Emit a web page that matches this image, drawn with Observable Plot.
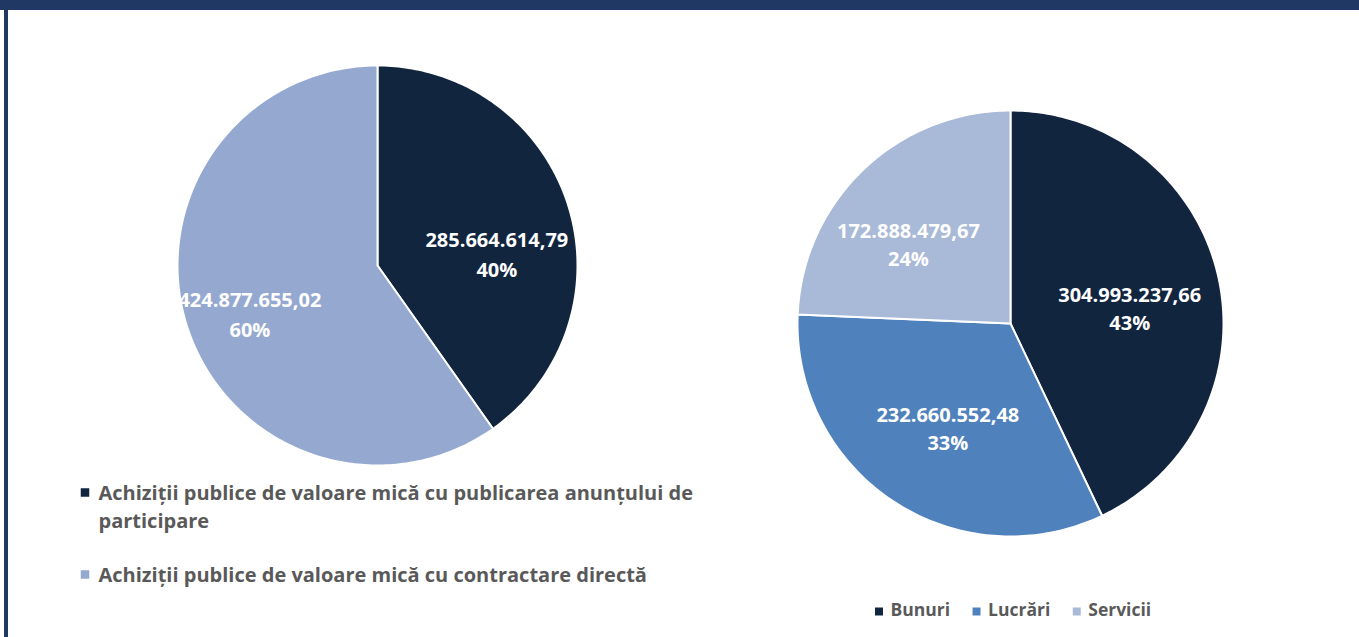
<!DOCTYPE html>
<html><head><meta charset="utf-8">
<script src="https://cdn.jsdelivr.net/npm/d3@7"></script>
<script src="https://cdn.jsdelivr.net/npm/@observablehq/plot@0.6"></script>
<style>
html,body{margin:0;padding:0;background:#fff;}
#wrap{position:relative;width:1359px;height:637px;overflow:hidden;background:#fff;}
#chart{position:absolute;left:0;top:0;}
#topband{position:absolute;left:0;top:0;width:1359px;height:10px;background:#1f3864;}
#leftbar{position:absolute;left:4px;top:0;width:4px;height:637px;background:#1f3864;}
</style></head><body>
<div id="wrap"><div id="chart"></div><div id="topband"></div><div id="leftbar"></div></div>
<script>
// ---- data ----
const leftCategories = [
  "Achiziții publice de valoare mică cu publicarea anunțului de participare",
  "Achiziții publice de valoare mică cu contractare directă"
];
const leftValues = [285664614.79, 424877655.02];
const leftColors = ["#12253f", "#95a9d0"];

const rightCategories = ["Bunuri", "Lucrări", "Servicii"];
const rightValues = [304993237.66, 232660552.48, 172888479.67];
const rightColors = ["#12253f", "#4f81bd", "#a9b9d8"];

// ---- layout ----
const W = 1359, H = 637;
const FONT = "'Open Sans', sans-serif";
const pies = {
  left:  {cx: 377,  cy: 265, r: 200, labelR: [0.60, 0.68], labelNudge: [11.6, -2.6], fontSize: 20, lineHeight: 1.5},
  right: {cx: 1010, cy: 323, r: 213, labelR: [0.565, 0.57, 0.61], labelNudge: [4.8, -2.4, -8], fontSize: 20, lineHeight: 1.4}
};

const ro = d3.formatLocale({decimal: ",", thousands: ".", grouping: [3], currency: ["", " lei"]});
const fmt = ro.format(",.2f");

function slices(cats, vals, cols, cfg, key) {
  const total = d3.sum(vals);
  let acc = 0;
  const poly = [], labels = [];
  cats.forEach((c, i) => {
    const a0 = acc / total * 2 * Math.PI;
    acc += vals[i];
    const a1 = acc / total * 2 * Math.PI;
    const n = Math.max(2, Math.ceil((a1 - a0) / (Math.PI / 180)));
    poly.push({key, cat: c, color: cols[i], x: cfg.cx, y: cfg.cy});
    for (let k = 0; k <= n; k++) {
      const a = a0 + (a1 - a0) * k / n;
      poly.push({key, cat: c, color: cols[i], x: cfg.cx + cfg.r * Math.sin(a), y: cfg.cy - cfg.r * Math.cos(a)});
    }
    poly.push({key, cat: c, color: cols[i], x: cfg.cx, y: cfg.cy});
    const am = (a0 + a1) / 2 + cfg.labelNudge[i] * Math.PI / 180;
    const lr = cfg.r * cfg.labelR[i];
    labels.push({
      x: cfg.cx + lr * Math.sin(am), y: cfg.cy - lr * Math.cos(am),
      text: fmt(vals[i]) + "\n" + Math.round(vals[i] / total * 100) + "%"
    });
  });
  return {poly, labels};
}

const L = slices(leftCategories, leftValues, leftColors, pies.left, "L");
const R = slices(rightCategories, rightValues, rightColors, pies.right, "R");

// legends
const legendColor = "#595959";
const leftLegend = leftCategories.map((c, i) => ({
  cat: c, color: leftColors[i],
  sx: 84.5, sy: i === 0 ? 492 : 574,
  tx: 98, ty: i === 0 ? 492 : 574,
  text: c.replace(" participare", "\nparticipare")
}));

const RLFS = 17.5;
const ctx = document.createElement("canvas").getContext("2d");
ctx.font = `bold ${RLFS}px ${FONT}`;
let lx = 874;
const rightLegend = rightCategories.map((c, i) => {
  const item = {cat: c, color: rightColors[i], sx: lx + 4.5, sy: 611, tx: lx + 16, ty: 610, text: c};
  lx += 16 + ctx.measureText(c).width + 22;
  return item;
});

const chart = Plot.plot({
  width: W, height: H,
  marginLeft: 177, marginRight: 0, marginTop: 0, marginBottom: 0,
  x: {domain: [0, W], range: [0, W], axis: null},
  y: {domain: [0, H], range: [0, H], axis: null},
  style: {fontFamily: FONT, background: "transparent"},
  marks: [
    Plot.line(L.poly, {x: "x", y: "y", z: "cat", fill: "color", stroke: "white", strokeWidth: 2, strokeLinejoin: "round", curve: "linear"}),
    Plot.line(R.poly, {x: "x", y: "y", z: "cat", fill: "color", stroke: "white", strokeWidth: 2, strokeLinejoin: "round", curve: "linear"}),
    Plot.text(L.labels, {x: "x", y: "y", text: "text", fill: "white", fontSize: pies.left.fontSize, fontWeight: "bold", fontFamily: FONT, lineHeight: pies.left.lineHeight, clip: true}),
    Plot.text(R.labels, {x: "x", y: "y", text: "text", fill: "white", fontSize: pies.right.fontSize, fontWeight: "bold", fontFamily: FONT, lineHeight: pies.right.lineHeight}),
    Plot.dot(leftLegend, {x: "sx", y: "sy", symbol: "square", r: 4.8, fill: "color", stroke: null}),
    Plot.text(leftLegend, {x: "tx", y: "ty", text: "text", textAnchor: "start", lineAnchor: "top", dy: -12, fill: legendColor, fontSize: 20, fontWeight: "bold", fontFamily: FONT, lineHeight: 1.4}),
    Plot.dot(rightLegend, {x: "sx", y: "sy", symbol: "square", r: 4.5, fill: "color", stroke: null}),
    Plot.text(rightLegend, {x: "tx", y: "ty", text: "text", textAnchor: "start", fill: legendColor, fontSize: RLFS, fontWeight: "bold", fontFamily: FONT})
  ]
});
document.getElementById("chart").appendChild(chart);
</script>
</body></html>
